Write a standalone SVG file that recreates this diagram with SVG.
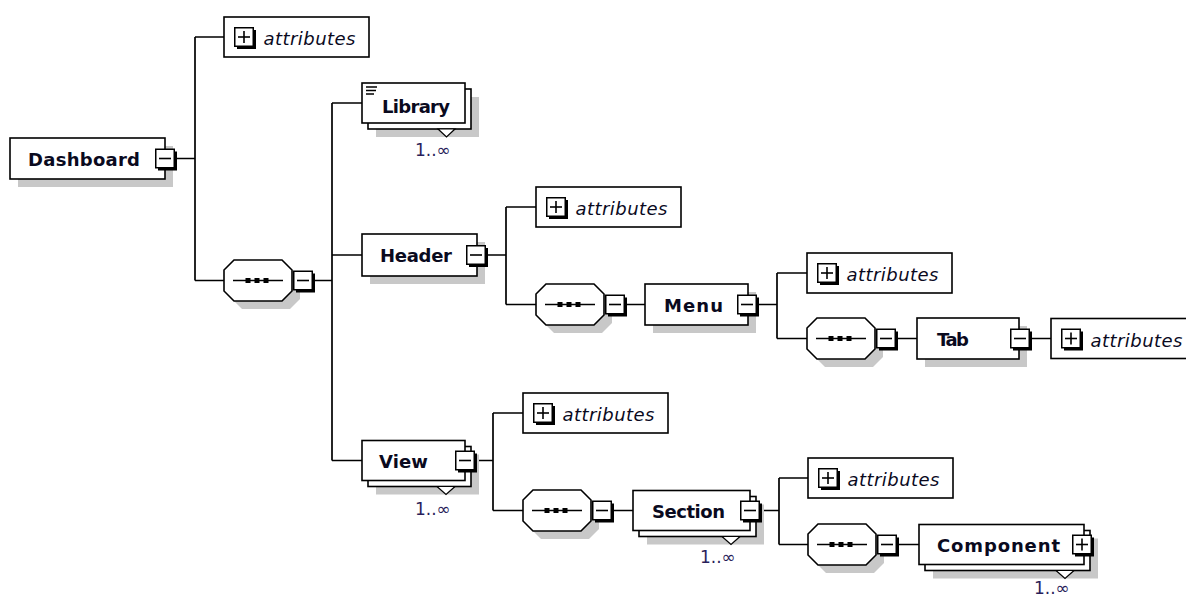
<svg xmlns="http://www.w3.org/2000/svg" xmlns:xlink="http://www.w3.org/1999/xlink" width="1186" height="597" viewBox="0 0 1186 597">
<style>
.box{fill:#fff;stroke:#000;stroke-width:1.6}
.shadow{fill:#c8c8c8;stroke:none}
.conn{stroke:#000;stroke-width:1.7;fill:none}
.name{font-family:"DejaVu Sans","Liberation Sans",sans-serif;font-weight:bold;font-size:18px;fill:#0a0a1e}
.attr{font-family:"DejaVu Sans","Liberation Sans",sans-serif;font-style:italic;font-size:18px;fill:#0a0a1e}
.mult{font-family:"DejaVu Sans","Liberation Sans",sans-serif;font-size:17px;fill:#2a1e5a}
.vee{fill:#fff;stroke:#000;stroke-width:1.2}
</style>
<defs>
<g id="minus"><rect x="3" y="3" width="19" height="19" fill="#000"/><rect x="0.75" y="0.75" width="18.5" height="18.5" fill="#fff" stroke="#000" stroke-width="1.5"/><path d="M4 10H16" stroke="#000" stroke-width="1.6"/></g>
<g id="plus"><use xlink:href="#minus"/><path d="M10 4V16" stroke="#000" stroke-width="1.6"/></g>
<g id="seq">
<polygon class="shadow" points="18,8 66,8 76,18 76,39 66,49 18,49 8,39 8,18"/>
<polygon class="box" points="10,0 58,0 68,10 68,31 58,41 10,41 0,31 0,10"/>
<path class="conn" d="M9 20.5H59"/>
<rect x="21.5" y="18" width="5" height="5"/><rect x="30.5" y="18" width="5" height="5"/><rect x="39.5" y="18" width="5" height="5"/>
<use xlink:href="#minus" x="69" y="10.5"/>
</g>
<g id="attrbox">
<rect class="box" x="0" y="0" width="145" height="40"/>
<use xlink:href="#plus" x="10" y="10"/>
<text class="attr" x="39.5" y="28" textLength="92">attributes</text>
</g>
</defs>
<rect width="1186" height="597" fill="#fff"/>
<g id="connectors">
<path class="conn" d="M177 158.5H195M195 37V280.5M195 37H224M195 280.5H224"/>
<path class="conn" d="M315 280.5H332M332 103V460.5M332 103H362M332 255H362M332 460.5H362"/>
<path class="conn" d="M488 255H506M506 207V304.5M506 207H536M506 304.5H536M627 304.5H645"/>
<path class="conn" d="M759 304.5H777M777 273V338.5M777 273H807M777 338.5H807M898 338.5H917M1032 338.5H1051"/>
<path class="conn" d="M477 460.5H493M493 413V510.5M493 413H523M493 510.5H523M614 510.5H633"/>
<path class="conn" d="M762 510.5H779M779 478V544.5M779 478H808M779 544.5H808M899 544.5H919"/>
</g>
<g id="n-dashboard">
<rect class="shadow" x="18" y="146" width="155" height="41"/>
<rect class="box" x="10" y="138" width="155" height="41"/>
<text class="name" x="28" y="166" textLength="112">Dashboard</text>
<use xlink:href="#minus" x="155" y="148.5"/>
</g>
<g id="n-dashboard-attributes"><use xlink:href="#attrbox" x="224" y="17"/></g>
<g id="n-dashboard-seq"><use xlink:href="#seq" x="224" y="260"/></g>
<g id="n-library">
<rect class="shadow" x="376" y="97" width="103" height="40"/>
<rect class="box" x="368" y="89" width="103" height="40"/>
<rect class="box" x="362" y="83" width="103" height="40"/>
<polygon class="vee" points="438,129 446.5,137 455,129"/>
<path d="M366 87H377M366 90.5H376M366 94H374" stroke="#000" stroke-width="1.3"/>
<text class="name" x="382" y="113" textLength="68">Library</text>
<text class="mult" x="415" y="156">1..∞</text>
</g>
<g id="n-header">
<rect class="shadow" x="370" y="242" width="115" height="42"/>
<rect class="box" x="362" y="234" width="115" height="42"/>
<text class="name" x="380" y="262" textLength="72">Header</text>
<use xlink:href="#minus" x="466" y="245"/>
</g>
<g id="n-header-attributes"><use xlink:href="#attrbox" x="536" y="187"/></g>
<g id="n-header-seq"><use xlink:href="#seq" x="536" y="284"/></g>
<g id="n-menu">
<rect class="shadow" x="653" y="292" width="103" height="41"/>
<rect class="box" x="645" y="284" width="103" height="41"/>
<text class="name" x="664" y="312" textLength="59">Menu</text>
<use xlink:href="#minus" x="737" y="294.5"/>
</g>
<g id="n-menu-attributes"><use xlink:href="#attrbox" x="807" y="253"/></g>
<g id="n-menu-seq"><use xlink:href="#seq" x="807" y="318"/></g>
<g id="n-tab">
<rect class="shadow" x="925" y="326" width="102" height="41"/>
<rect class="box" x="917" y="318" width="102" height="41"/>
<text class="name" x="937" y="346" textLength="32">Tab</text>
<use xlink:href="#minus" x="1010" y="328.5"/>
</g>
<g id="n-tab-attributes"><use xlink:href="#attrbox" x="1051" y="318.5"/></g>
<g id="n-view">
<rect class="shadow" x="376" y="454.5" width="103" height="40"/>
<rect class="box" x="368" y="446.5" width="103" height="40"/>
<rect class="box" x="362" y="440.5" width="103" height="40"/>
<polygon class="vee" points="437,486.5 446,494.5 455,486.5"/>
<text class="name" x="379" y="468" textLength="49">View</text>
<use xlink:href="#minus" x="455" y="450.5"/>
<text class="mult" x="415" y="515">1..∞</text>
</g>
<g id="n-view-attributes"><use xlink:href="#attrbox" x="523" y="393"/></g>
<g id="n-view-seq"><use xlink:href="#seq" x="523" y="490"/></g>
<g id="n-section">
<rect class="shadow" x="647" y="504.5" width="117" height="40"/>
<rect class="box" x="639" y="496.5" width="117" height="40"/>
<rect class="box" x="633" y="490.5" width="117" height="40"/>
<polygon class="vee" points="722,536.5 731,544.5 740,536.5"/>
<text class="name" x="652" y="518" textLength="73">Section</text>
<use xlink:href="#minus" x="740" y="500.5"/>
<text class="mult" x="700" y="563">1..∞</text>
</g>
<g id="n-section-attributes"><use xlink:href="#attrbox" x="808" y="458"/></g>
<g id="n-section-seq"><use xlink:href="#seq" x="808" y="524"/></g>
<g id="n-component">
<rect class="shadow" x="933" y="538.5" width="165" height="40"/>
<rect class="box" x="925" y="530.5" width="165" height="40"/>
<rect class="box" x="919" y="524.5" width="165" height="40"/>
<polygon class="vee" points="1056,570.5 1065,578.5 1074,570.5"/>
<text class="name" x="937" y="552" textLength="123">Component</text>
<use xlink:href="#plus" x="1072" y="534.5"/>
<text class="mult" x="1034" y="594">1..∞</text>
</g>
</svg>
